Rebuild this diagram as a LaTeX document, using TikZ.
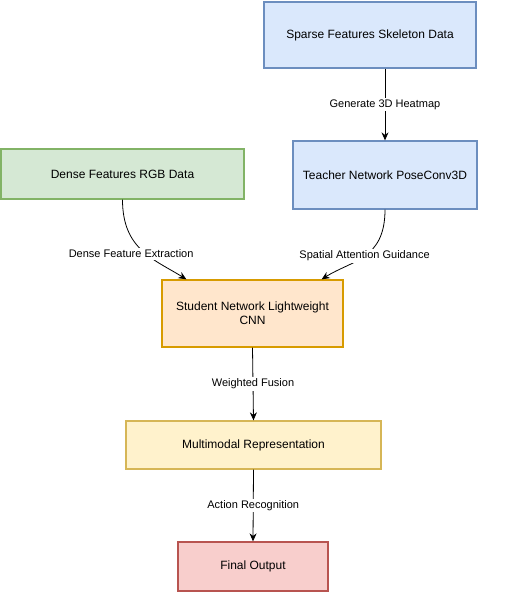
\documentclass[tikz,border=0pt]{standalone}
\usepackage{fontspec}
\setmainfont{Liberation Sans}
\usetikzlibrary{arrows.meta,positioning,calc}
\definecolor{blueF}{HTML}{dae8fc}
\definecolor{blueD}{HTML}{6c8ebf}
\definecolor{greenF}{HTML}{d5e8d4}
\definecolor{greenD}{HTML}{82b366}
\definecolor{orangeF}{HTML}{ffe6cc}
\definecolor{orangeD}{HTML}{d79b00}
\definecolor{yellowF}{HTML}{fff2cc}
\definecolor{yellowD}{HTML}{d6b656}
\definecolor{redF}{HTML}{f8cecc}
\definecolor{redD}{HTML}{b85450}
\begin{document}
\begin{tikzpicture}[
  x=1pt, y=1pt,
  font=\fontsize{12}{14}\selectfont,
  box/.style={rectangle, line width=1.3pt, inner sep=2pt, align=center},
  lab/.style={font=\fontsize{11}{13}\selectfont, fill=white, inner sep=1.5pt},
  >={Stealth[length=8pt,width=7pt]}]
  \useasboundingbox (0,0) rectangle (505,592);
  \node[box, draw=blueD, fill=blueF, minimum width=212, minimum height=66] (sparse) at (370,557) {Sparse Features Skeleton Data};
  \node[box, draw=blueD, fill=blueF, minimum width=184, minimum height=68] (teacher) at (385,417) {Teacher Network PoseConv3D};
  \node[box, draw=greenD, fill=greenF, minimum width=243, minimum height=50] (dense) at (122.5,418) {Dense Features RGB Data};
  \node[box, draw=orangeD, fill=orangeF, minimum width=181, minimum height=67] (student) at (252.5,278.5) {Student Network Lightweight\\CNN};
  \node[box, draw=yellowD, fill=yellowF, minimum width=255, minimum height=48] (multi) at (253.5,147) {Multimodal Representation};
  \node[box, draw=redD, fill=redF, minimum width=150, minimum height=49] (final) at (253,25.5) {Final Output};
  % top branch
  \draw[->, line width=0.8pt] (teacher.north |- sparse.south) -- node[lab]{Generate 3D Heatmap} (teacher.north);
  % curved inputs to student
  \draw[->, line width=0.8pt] (dense.south) .. controls +(0,-50) and +(-32,20) .. node[lab, pos=0.55, xshift=-15]{Dense Feature Extraction} ([xshift=25]student.north west);
  \draw[->, line width=0.8pt] (teacher.south) .. controls +(0,-50) and +(30,19) .. node[lab, pos=0.5]{Spatial Attention Guidance} ([xshift=-22]student.north east);
  % down the chain
  \draw[->, line width=0.8pt] (student.south) -- node[lab]{Weighted Fusion} (multi.north);
  \draw[->, line width=0.8pt] (multi.south) -- node[lab]{Action Recognition} (final.north);
\end{tikzpicture}
\end{document}
